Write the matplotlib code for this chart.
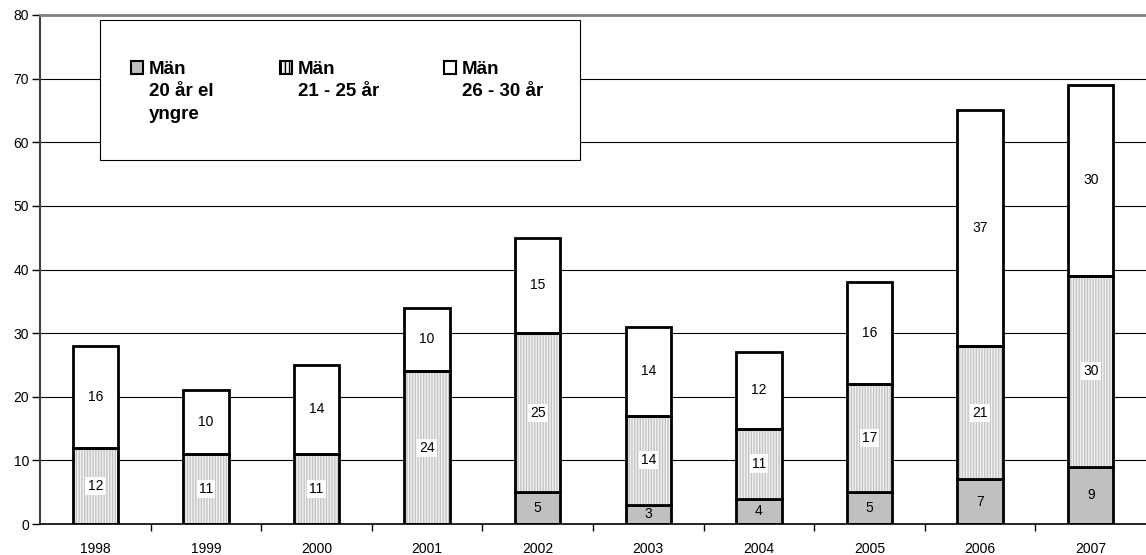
import matplotlib
matplotlib.use("Agg")
import matplotlib.pyplot as plt
from matplotlib.patches import Rectangle, Patch
import numpy as np

plt.rcParams['font.family'] = ['Liberation Sans', 'DejaVu Sans']

years = ["1998", "1999", "2000", "2001", "2002", "2003", "2004", "2005", "2006", "2007"]
young = [0, 0, 0, 0, 5, 3, 4, 5, 7, 9]
mid = [12, 11, 11, 24, 25, 14, 11, 17, 21, 30]
old = [16, 10, 14, 10, 15, 14, 12, 16, 37, 30]
series_labels = ["Män\n20 år el\nyngre", "Män\n21 - 25 år", "Män\n26 - 30 år"]
yticks = [0, 10, 20, 30, 40, 50, 60, 70, 80]

W, H = 1146, 555
fig = plt.figure(figsize=(W / 100, H / 100), dpi=100)
ax = fig.add_axes([40 / W, 1 - 524 / H, 1106 / W, (524 - 15) / H])

x = np.arange(len(years))
bw = 0.41
young_a = np.array(young)
mid_a = np.array(mid)
old_a = np.array(old)

ax.set_axisbelow(True)
for v in yticks[1:-1]:
    ax.axhline(v, color='black', lw=0.8, zorder=0)

MID_FACE = '#f2f2f2'
MID_HATCH = '#c4c4c4'
FS = 10
b1 = ax.bar(x, young_a, bw, color='#c0c0c0', edgecolor='black', lw=2, zorder=2)
ax.bar(x, mid_a, bw, bottom=young_a, color=MID_FACE, edgecolor=MID_HATCH, lw=0,
       hatch='||||||', zorder=2)
b2 = ax.bar(x, mid_a, bw, bottom=young_a, color='none', edgecolor='black', lw=2, zorder=3)
b3 = ax.bar(x, old_a, bw, bottom=young_a + mid_a, color='white', edgecolor='black', lw=2, zorder=2)

def lbl(vals):
    return [str(v) if v else '' for v in vals]

ax.bar_label(b1, labels=lbl(young), label_type='center', fontsize=FS, zorder=5)
ax.bar_label(b2, labels=lbl(mid), label_type='center', fontsize=FS, zorder=5,
             bbox=dict(facecolor='white', edgecolor='none', pad=1.5))
ax.bar_label(b3, labels=lbl(old), label_type='center', fontsize=FS, zorder=5)

ax.set_xlim(-0.5, len(years) - 0.5)
ax.set_ylim(0, 80)
ax.set_yticks(yticks)
ax.tick_params(axis='y', labelsize=FS, length=6, width=1, direction='out', pad=2)
ax.set_xticks(x)
ax.set_xticklabels(years)
ax.tick_params(axis='x', which='major', length=0, labelsize=FS, pad=13)
ax.set_xticks(np.arange(0.5, len(years) - 0.5, 1), minor=True)
ax.tick_params(axis='x', which='minor', length=5, width=1, direction='out')

ax.spines['right'].set_visible(False)
ax.spines['top'].set_color('#808080')
ax.spines['top'].set_linewidth(2)
ax.spines['left'].set_color('#404040')
ax.spines['left'].set_linewidth(1.5)
ax.spines['bottom'].set_color('black')
ax.spines['bottom'].set_linewidth(1.2)

# legend frame
fig.patches.append(Rectangle((100 / W, 1 - 160 / H), 480 / W, 140 / H, transform=fig.transFigure,
                             facecolor='white', edgecolor='black', lw=0.8, zorder=10))
handles = [Patch(facecolor='#c0c0c0', edgecolor='black', lw=1.5),
           Patch(facecolor=MID_FACE, edgecolor='black', lw=1.5, hatch='||||'),
           Patch(facecolor='white', edgecolor='black', lw=1.5)]
leg_size = 13.5
col_x = [131, 280, 444]
line_px = 22.5
fig.canvas.draw()
renderer = fig.canvas.get_renderer()
for h, full, cx in zip(handles, series_labels, col_x):
    lines = full.split("\n")
    leg = fig.legend([h], [lines[0]], frameon=False, loc='upper left',
                     bbox_to_anchor=(cx / W, 1 - 61 / H), prop=dict(weight='bold', size=leg_size),
                     handlelength=0.66, handleheight=0.66, handletextpad=0.28, borderpad=0,
                     borderaxespad=0)
    leg.set_zorder(11)
    fig.canvas.draw()
    t = leg.get_texts()[0]
    bb = t.get_window_extent(renderer)
    for i, line in enumerate(lines[1:]):
        fig.text(bb.x0 / W, (bb.y0 - (i + 1) * line_px) / H, line, fontsize=leg_size,
                 fontweight='bold', ha='left', va='bottom', zorder=12)

fig.savefig("out.png", dpi=100)
